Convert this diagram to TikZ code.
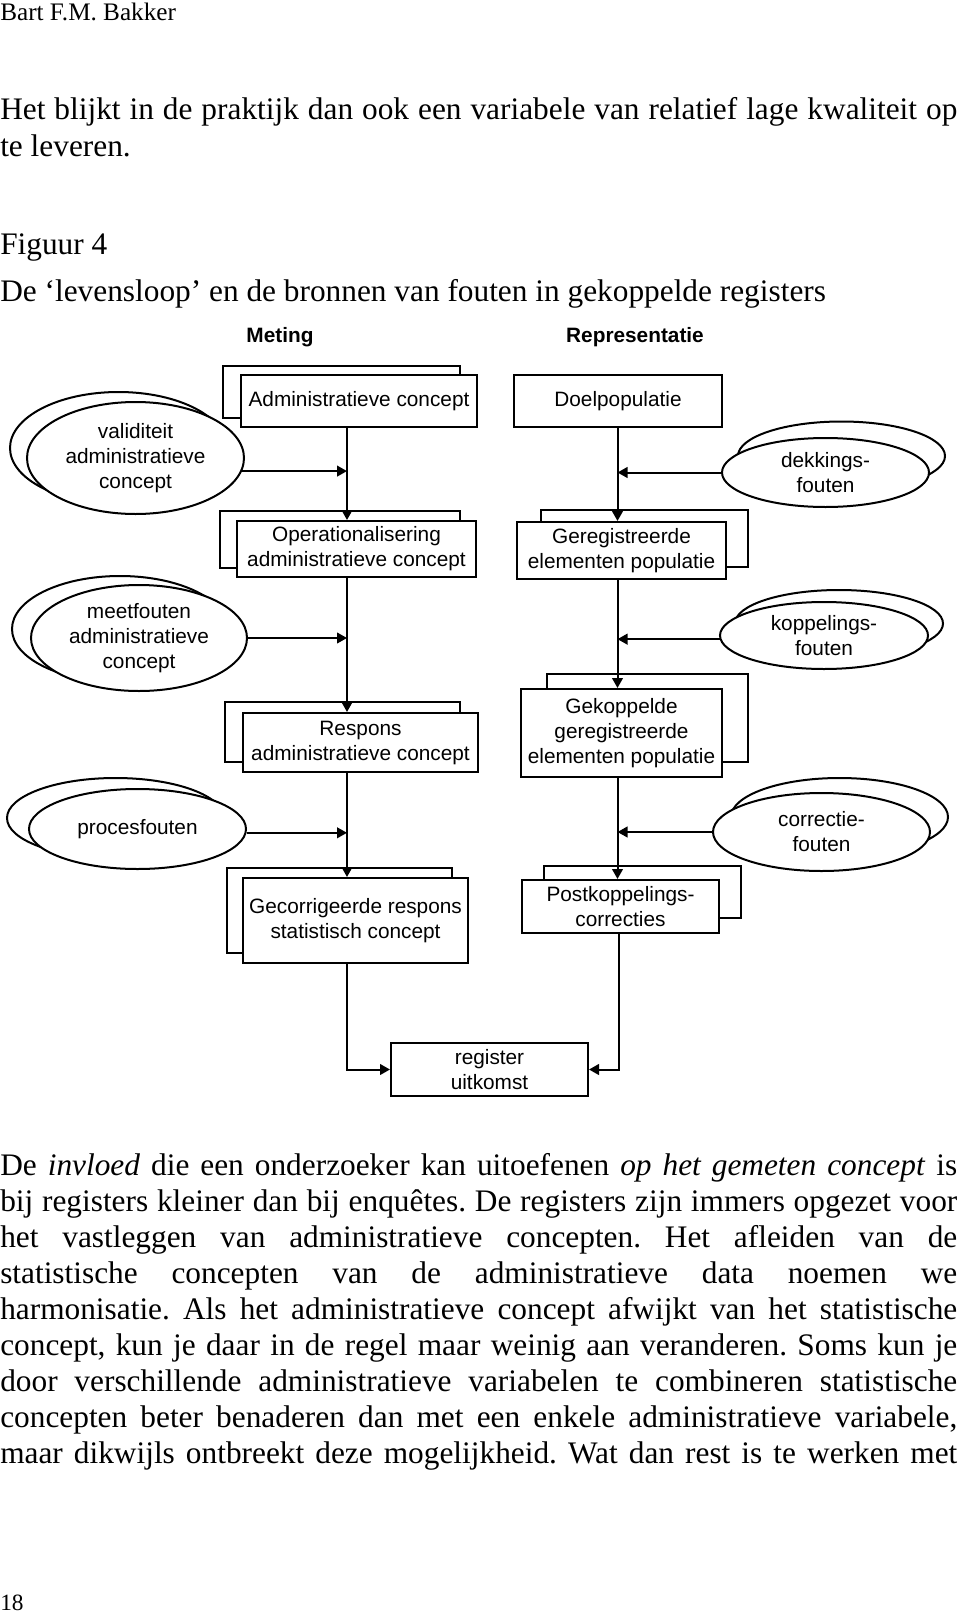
\documentclass[tikz,border=0pt]{standalone}
\usepackage{fontspec}
\setmainfont{Liberation Serif}
\setsansfont{Liberation Sans}
\usetikzlibrary{arrows.meta,shapes.geometric}
\begin{document}
\frenchspacing
\begin{tikzpicture}[x=0.75pt,y=-0.75pt,
  sz/.style 2 args={minimum width=#1*0.75pt,minimum height=#2*0.75pt},
  lw/.style={line width=1.5pt},
  sansf/.style={font=\sffamily\fontsize{15.6}{18.75}\selectfont},
  box/.style={draw,lw,fill=white,inner sep=0pt,align=center,sansf},
  ell/.style={ellipse,draw,lw,fill=white,inner sep=0pt,align=center,sansf},
  arr/.style={lw,-{Triangle[length=7.5pt,width=8pt]}},
  bodytext/.style={inner sep=0pt,anchor=base west},
  head/.style={inner sep=0pt,anchor=base,font=\sffamily\bfseries\fontsize{15.6}{18}\selectfont},
]
\fill[white,use as bounding box] (0,0) rectangle (960,1620);

% ---------- page text ----------
\node[bodytext,font=\fontsize{18.9}{22}\selectfont] (author) at (0,21) {Bart F.M. Bakker};
\node[bodytext] (intro) at (0,119.5) {\parbox[t]{717.75pt}{\fontsize{23.5}{27.4}\selectfont\frenchspacing\noindent
\makebox[\linewidth][s]{Het blijkt in de praktijk dan ook een variabele van relatief lage kwaliteit op}\\
te leveren.}};
\node[bodytext,font=\fontsize{23.5}{27}\selectfont] (fig) at (0,254) {Figuur 4};
\node[bodytext,font=\fontsize{23.5}{27}\selectfont] (title) at (0,301) {De ‘levensloop’ en de bronnen van fouten in gekoppelde registers};

\node[bodytext] (body) at (0,1175) {\parbox[t]{717.75pt}{\fontsize{23.5}{27}\selectfont\frenchspacing\noindent
\makebox[\linewidth][s]{De \textit{invloed} die een onderzoeker kan uitoefenen \textit{op het gemeten concept} is}\\
\makebox[\linewidth][s]{bij registers kleiner dan bij enquêtes. De registers zijn immers opgezet voor}\\
\makebox[\linewidth][s]{het vastleggen van administratieve concepten. Het afleiden van de}\\
\makebox[\linewidth][s]{statistische concepten van de administratieve data noemen we}\\
\makebox[\linewidth][s]{harmonisatie. Als het administratieve concept afwijkt van het statistische}\\
\makebox[\linewidth][s]{concept, kun je daar in de regel maar weinig aan veranderen. Soms kun je}\\
\makebox[\linewidth][s]{door verschillende administratieve variabelen te combineren statistische}\\
\makebox[\linewidth][s]{concepten beter benaderen dan met een enkele administratieve variabele,}\\
\makebox[\linewidth][s]{maar dikwijls ontbreekt deze mogelijkheid. Wat dan rest is te werken met}}};

\node[bodytext,font=\fontsize{17.5}{20}\selectfont] (pnum) at (0,1610) {18};

% ---------- column headers ----------
\node[head] (meting) at (280,342) {Meting};
\node[head] (repr) at (635,342) {Representatie};

% ---------- guide coordinates for the vertical lines ----------
\coordinate (mx) at (347,0);
\coordinate (rx) at (617.5,0);
\coordinate (rx2) at (619,0);

% ---------- left column boxes ----------
\node[box,sz={237}{52}] (A0) at (341.5,392) {};
\node[box,sz={236}{52}] (A) at (359,401) {Administratieve concept};
\node[box,sz={240}{57}] (B0) at (340,539.5) {};
\node[box,sz={239}{56}] (B) at (356.5,549) {Operationalisering\\administratieve concept};
\node[box,sz={235}{60}] (C0) at (342.5,732) {};
\node[box,sz={235}{59}] (C) at (360.5,742.5) {Respons\\administratieve concept};
\node[box,sz={225}{85}] (D0) at (339.5,910.5) {};
\node[box,sz={225}{85}] (D) at (355.5,920.5) {Gecorrigeerde respons\\statistisch concept};

% ---------- right column boxes ----------
\node[box,sz={208}{52}] (F) at (618,401) {Doelpopulatie};
\node[box,sz={207}{57}] (G0) at (644.5,538.5) {};
\node[box,sz={209}{57}] (G) at (621.5,550.5) {Geregistreerde\\elementen populatie};
\node[box,sz={201}{88}] (H0) at (647.5,718) {};
\node[box,sz={201}{88}] (H) at (621.5,733) {Gekoppelde\\geregistreerde\\elementen populatie};
\node[box,sz={197}{52}] (I0) at (642.5,892) {};
\node[box,sz={197}{53}] (I) at (620.5,906.5) {Postkoppelings-\\correcties};

\node[box,sz={197}{53}] (R) at (489.5,1069.5) {register\\uitkomst};

% ---------- left ellipses ----------
\node[ell,sz={217}{112}] (E10) at (118.5,448) {};
\node[ell,sz={217}{112}] (E1) at (135.5,458) {validiteit\\administratieve\\concept};
\node[ell,sz={216}{106}] (E20) at (120,629) {};
\node[ell,sz={216}{106}] (E2) at (139,638) {meetfouten\\administratieve\\concept};
\node[ell,sz={217}{80}] (E30) at (115.5,818) {};
\node[ell,sz={217}{80}] (E3) at (137.5,829) {procesfouten};

% ---------- right ellipses ----------
\node[ell,sz={207}{69}] (R10) at (841.5,456) {};
\node[ell,sz={207}{69}] (R1) at (825.5,472.5) {dekkings-\\fouten};
\node[ell,sz={208}{67}] (R20) at (839,623.5) {};
\node[ell,sz={208}{67}] (R2) at (824,635.5) {koppelings-\\fouten};
\node[ell,sz={217}{78}] (R30) at (839.5,817) {};
\node[ell,sz={217}{78}] (R3) at (821.5,832) {correctie-\\fouten};

% ---------- main flow connectors ----------
\draw[arr] (A.south -| mx) -- (B.north -| mx);
\draw[arr] (B.south -| mx) -- (C.north -| mx);
\draw[arr] (C.south -| mx) -- (D.north -| mx);
\draw[arr] (D.south -| mx) |- (R.west);

\draw[arr] (F.south -| rx) -- (G.north -| rx);
\draw[arr] (G.south -| rx) -- (H.north -| rx);
\draw[arr] (H.south -| rx) -- (I.north -| rx);
\draw[arr] (I.south -| rx2) |- (R.east);

% ---------- error source connectors ----------
\draw[arr] (E1.-7) -- (E1.-7 -| mx);
\draw[arr] (E2.east) -- (E2.east -| mx);
\draw[arr] (E3.-2) -- (E3.-2 -| mx);
\draw[arr] (R1.west) -- (R1.west -| rx);
\draw[arr] (R2.182) -- (R2.182 -| rx);
\draw[arr] (R3.west) -- (R3.west -| rx);
\end{tikzpicture}
\end{document}
